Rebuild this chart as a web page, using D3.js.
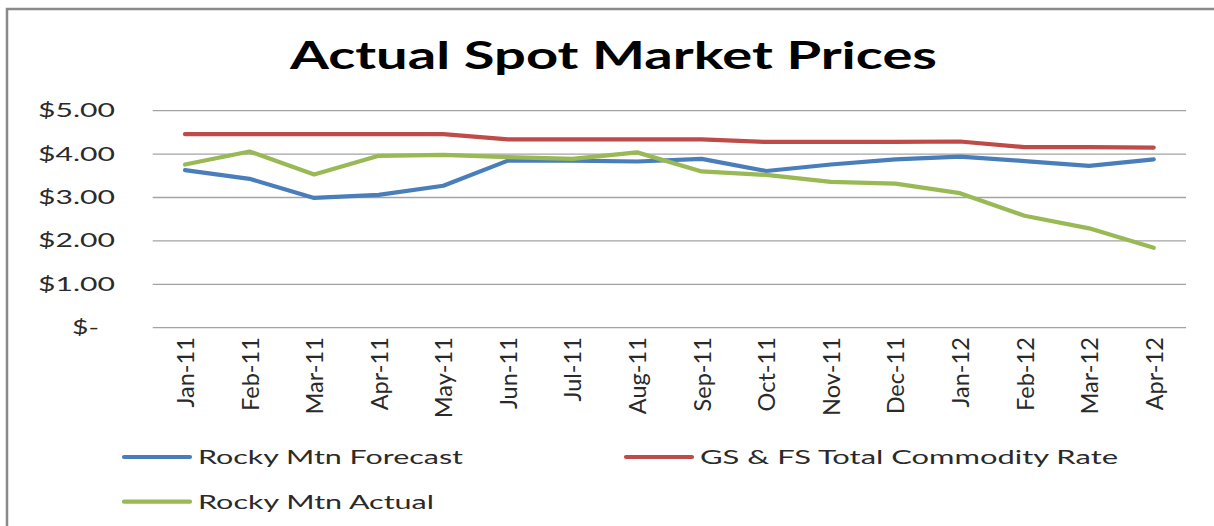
<!DOCTYPE html>
<html>
<head>
<meta charset="utf-8">
<script src="https://cdn.jsdelivr.net/npm/d3@7"></script>
<style>
  html, body { margin: 0; padding: 0; background: #fff; }
  #chart svg { display: block; }
</style>
</head>
<body>
<div id="chart"></div>
<script>
const months = ["Jan-11", "Feb-11", "Mar-11", "Apr-11", "May-11", "Jun-11", "Jul-11", "Aug-11",
                "Sep-11", "Oct-11", "Nov-11", "Dec-11", "Jan-12", "Feb-12", "Mar-12", "Apr-12"];
const rockyForecast = [3.63, 3.43, 2.99, 3.06, 3.27, 3.85, 3.85, 3.83, 3.89, 3.61, 3.76, 3.88, 3.94, 3.84, 3.73, 3.88];
const commodityRate = [4.46, 4.46, 4.46, 4.46, 4.46, 4.34, 4.34, 4.34, 4.34, 4.28, 4.28, 4.28, 4.29, 4.16, 4.16, 4.15];
const rockyActual   = [3.76, 4.06, 3.53, 3.96, 3.98, 3.93, 3.89, 4.04, 3.60, 3.52, 3.36, 3.32, 3.10, 2.58, 2.29, 1.84];
const yTicks = [0, 1, 2, 3, 4, 5];
const seriesNames = ["Rocky Mtn Forecast", "GS & FS Total Commodity Rate", "Rocky Mtn Actual"];
const seriesColors = ["#4a7ebb", "#be4b48", "#98b954"];
const chartTitle = "Actual Spot Market Prices";

class SpotPriceChart {
    size = { width: 1214, height: 526 };
    plot = { left: 152.7, right: 1186, top: 110.7, bottom: 327.7 };
    labelColor = "#2a2a2a";

    constructor(el) {
        this.el = el;
    }

    create() {
        this.svg = d3.select(this.el).append("svg")
            .attr("width", this.size.width)
            .attr("height", this.size.height)
            .style("font-family", "Lato, 'DejaVu Sans', sans-serif");

        this.svg.append("rect")
            .attr("width", this.size.width)
            .attr("height", this.size.height)
            .attr("fill", "#fff");

        // outer frame, only top and left edges show in the crop
        this.svg.append("path")
            .attr("d", `M7,${this.size.height} V9 H${this.size.width}`)
            .attr("fill", "none")
            .attr("stroke", "#8a8a8a")
            .attr("stroke-width", 2.5);

        this.gridG = this.svg.append("g").attr("class", "grid");
        this.xAxisG = this.svg.append("g").attr("class", "x-axis");
        this.yAxisG = this.svg.append("g").attr("class", "y-axis");
        this.linesG = this.svg.append("g").attr("class", "lines");
        this.legendG = this.svg.append("g").attr("class", "legend");
        return this;
    }

    render() {
        const p = this.plot;
        const series = [rockyForecast, commodityRate, rockyActual].map((values, i) => ({
            name: seriesNames[i], color: seriesColors[i], values
        }));

        this.xScale = d3.scalePoint().domain(months).range([p.left, p.right]).padding(0.5);
        this.yScale = d3.scaleLinear().domain([0, 5]).range([p.bottom, p.top]);

        // title
        this.svg.append("text")
            .attr("x", 613.5)
            .attr("y", 69.3)
            .attr("text-anchor", "middle")
            .attr("font-size", 38.5)
            .attr("font-weight", "bold")
            .attr("fill", "#000")
            .attr("textLength", 647)
            .attr("lengthAdjust", "spacingAndGlyphs")
            .text(chartTitle);

        // horizontal gridlines
        this.gridG.selectAll("line")
            .data(yTicks)
            .join("line")
            .attr("x1", p.left)
            .attr("x2", p.right)
            .attr("y1", d => this.yScale(d))
            .attr("y2", d => this.yScale(d))
            .attr("stroke", "#a3a3a3")
            .attr("stroke-width", 1.3);

        // y axis labels
        this.yAxisG
            .attr("transform", `translate(${p.left},0)`)
            .call(d3.axisLeft(this.yScale)
                .tickValues(yTicks)
                .tickSize(0)
                .tickPadding(37.7)
                .tickFormat(d => d === 0 ? "$-" : "$" + d.toFixed(2)))
            .call(g => g.select(".domain").remove());
        this.yAxisG.selectAll("text")
            .attr("font-family", "Lato, sans-serif")
            .attr("font-size", 18.5)
            .attr("fill", this.labelColor)
            .attr("lengthAdjust", "spacingAndGlyphs")
            .attr("textLength", d => d === 0 ? 27 : 77)
            .attr("dx", d => d === 0 ? -16 : 0);

        // x axis labels, rotated
        this.xAxisG
            .attr("transform", `translate(0,${p.bottom})`)
            .call(d3.axisBottom(this.xScale).tickSize(0))
            .call(g => g.select(".domain").remove());
        this.xAxisG.selectAll("text")
            .attr("font-family", "Lato, sans-serif")
            .attr("font-size", 23.5)
            .attr("fill", this.labelColor)
            .attr("text-anchor", "end")
            .attr("transform", "rotate(-90)")
            .attr("x", -9.5)
            .attr("y", 0)
            .attr("dy", "0.36em");

        const line = d3.line()
            .x((d, i) => this.xScale(months[i]))
            .y(d => this.yScale(d));

        this.linesG.selectAll("path")
            .data(series)
            .join("path")
            .attr("d", d => line(d.values))
            .attr("fill", "none")
            .attr("stroke", d => d.color)
            .attr("stroke-width", 4.2)
            .attr("stroke-linejoin", "round")
            .attr("stroke-linecap", "round");

        this.renderLegend(series);
        return this;
    }

    renderLegend(series) {
        const slots = [
            { x: 124, y: 457, w: 265 },
            { x: 626, y: 457, w: 418 },
            { x: 124, y: 501.7, w: 236 }
        ];

        const items = this.legendG.selectAll(".legend-item")
            .data(series)
            .join("g")
            .attr("class", "legend-item")
            .attr("transform", (d, i) => `translate(${slots[i].x},${slots[i].y})`);

        items.append("line")
            .attr("x1", 0)
            .attr("x2", 66)
            .attr("stroke", d => d.color)
            .attr("stroke-width", 4.2)
            .attr("stroke-linecap", "round");

        items.append("text")
            .attr("x", 74)
            .attr("y", 7)
            .attr("font-size", 19.5)
            .attr("fill", this.labelColor)
            .attr("lengthAdjust", "spacingAndGlyphs")
            .attr("textLength", (d, i) => slots[i].w)
            .text(d => d.name);

        return this;
    }
}

new SpotPriceChart(document.getElementById("chart")).create().render();
</script>
</body>
</html>
